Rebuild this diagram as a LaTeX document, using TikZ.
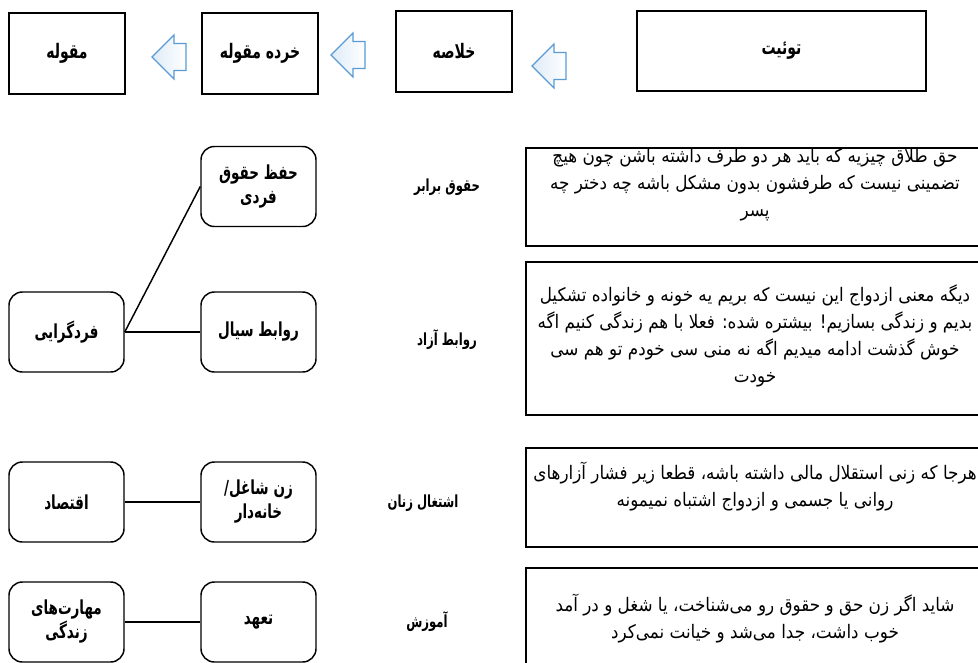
\documentclass[tikz,border=0pt]{standalone}
\usepackage{fontspec}
\newfontfamily\fa[Script=Arabic,FakeStretch=0.9]{DejaVu Sans}
\newfontfamily\fab[Script=Arabic,FakeStretch=0.7]{DejaVu Sans}
\TeXXeTstate=1
\definecolor{arrowline}{RGB}{91,155,213}
\definecolor{arrowfill}{RGB}{222,235,247}
\newcommand{\rl}[1]{\beginR #1\endR}
\tikzset{
  topbox/.style={draw,line width=1.5pt,inner sep=0pt,minimum width=87pt,minimum height=60.75pt,font=\fab\bfseries\fontsize{15}{16}\selectfont},
  roundbox/.style={draw,line width=1.1pt,rounded corners=10pt,inner sep=0pt,minimum width=86.25pt,minimum height=60pt,align=center,font=\fab\bfseries\fontsize{14.5}{18}\selectfont},
  lbl/.style={align=center,font=\fab\bfseries\fontsize{12.5}{14}\selectfont},
  quotebox/.style={line width=1.1pt},
  quote/.style={align=center,inner sep=0pt,font=\fa\fontsize{14}{20.25}\selectfont},
  blockarr/.style={draw=arrowline,line width=0.9pt,left color=arrowfill,right color=white}
}
\begin{document}
\begin{tikzpicture}[x=0.75pt,y=-0.75pt]
\useasboundingbox (0,0) rectangle (978,662);
\clip (0,0) rectangle (978,662);
\fill[white] (0,0) rectangle (978,662);
% top row
\node[topbox] (maghule) at (67,53.5) {\rl{مقوله}};
\node[topbox] (khorde) at (260,53.5) {\rl{خرده مقوله}};
\node[topbox] (kholase) at (454,51.5) {\rl{خلاصه}};
\node[topbox,minimum width=216.75pt,minimum height=60pt] (tweet) at (781.5,51) {\rl{توئیت}};
\foreach \tx/\ty in {152/57, 331/55, 532/66}
  \draw[blockarr] (\tx,\ty) -- ++(22,-22) -- ++(0,8.5) -- ++(12,0) -- ++(0,27) -- ++(-12,0) -- ++(0,8.5) -- cycle;
% quotes
\draw[quotebox] (526,148) rectangle (983,246);
\node[quote] (q1) at (755,185) {\rl{حق طلاق چیزیه که باید هر دو طرف داشته باشن چون هیچ}\\ \rl{تضمینی نیست که طرفشون بدون مشکل باشه چه دختر چه}\\ \rl{پسر}};
\draw[quotebox] (526,262) rectangle (983,415);
\begin{scope}
\clip (526,262) rectangle (983,415);
\node[quote] (q2) at (755,336) {\rl{دیگه معنی ازدواج این نیست که بریم یه خونه و خانواده تشکیل}\\ \rl{بدیم و زندگی بسازیم! بیشتره شده: فعلا با هم زندگی کنیم اگه}\\ \rl{خوش گذشت ادامه میدیم اگه نه منی سی خودم تو هم سی}\\ \rl{خودت}};
\end{scope}
\draw[quotebox] (526,448) rectangle (983,547);
\node[quote] (q3) at (755,487) {\rl{هرجا که زنی استقلال مالی داشته باشه، قطعا زیر فشار آزارهای}\\ \rl{روانی یا جسمی و ازدواج اشتباه نمیمونه}};
\draw[quotebox] (526,568) rectangle (983,680);
\node[quote] (q4) at (755,619) {\rl{شاید اگر زن حق و حقوق رو می^^^^200cشناخت، یا شغل و در آمد}\\ \rl{خوب داشت، جدا می^^^^200cشد و خیانت نمی^^^^200cکرد}};
% middle labels
\node[lbl] (barabar) at (447,187) {\rl{حقوق برابر}};
\node[lbl] (azad) at (447,340) {\rl{روابط آزاد}};
\node[lbl] (eshteghal) at (423,503) {\rl{اشتغال زنان}};
\node[lbl] (amuzesh) at (427,622) {\rl{آموزش}};
% concepts
\node[roundbox] (hefz) at (258.5,186.5) {\rl{حفظ حقوق}\\ \rl{فردی}};
\node[roundbox] (fardgerayi) at (66.5,332) {\rl{فردگرایی}};
\node[roundbox] (sayyal) at (258.5,332) {\rl{روابط سیال}};
\node[roundbox] (eghtesad) at (66.5,502) {\rl{اقتصاد}};
\node[roundbox] (shaghel) at (258.5,502) {\rl{زن شاغل/}\\ \rl{خانه^^^^200cدار}};
\node[roundbox] (maharat) at (66.5,622) {\rl{مهارت^^^^200cهای}\\ \rl{زندگی}};
\node[roundbox] (taahod) at (258.5,622) {\rl{تعهد}};
\draw[line width=1.1pt] (fardgerayi.east) -- (hefz.west);
\draw[line width=1.1pt] (fardgerayi.east) -- (sayyal.west);
\draw[line width=1.1pt] (eghtesad.east) -- (shaghel.west);
\draw[line width=1.1pt] (maharat.east) -- (taahod.west);
\end{tikzpicture}
\end{document}
